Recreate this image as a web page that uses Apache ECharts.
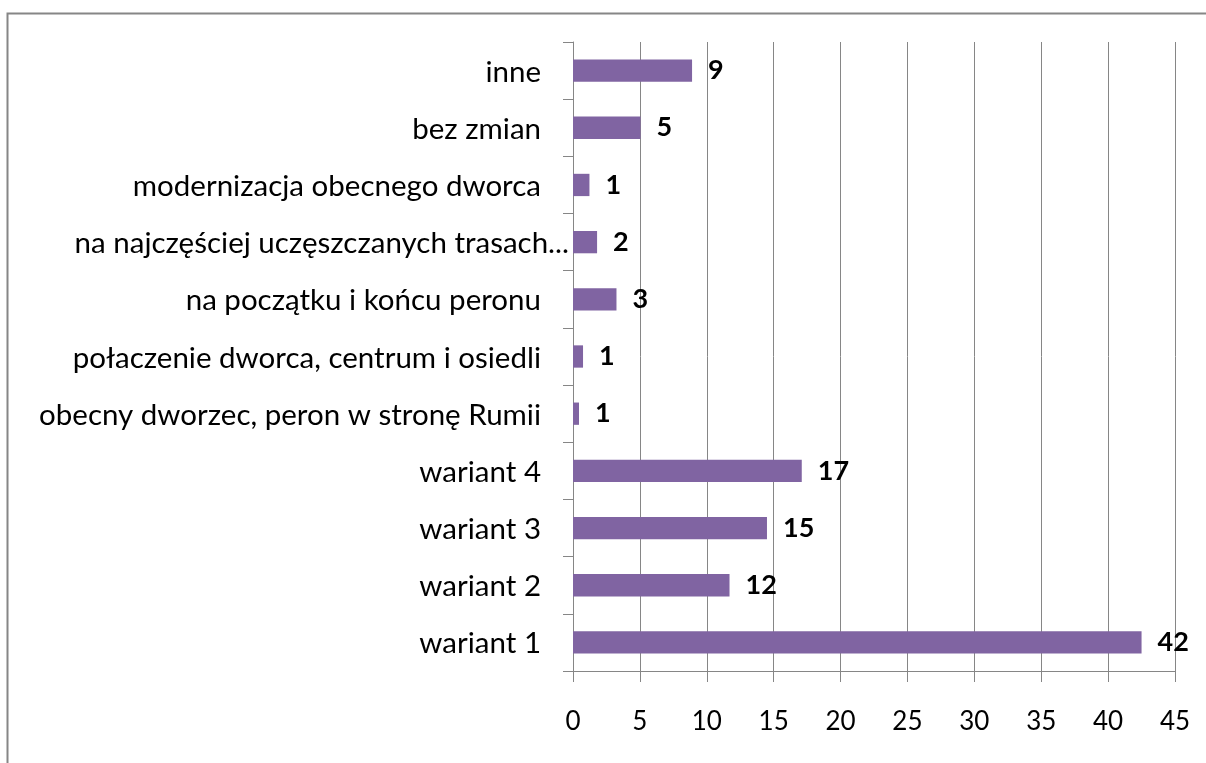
<!DOCTYPE html>
<html>
<head>
<meta charset="utf-8">
<script src="https://cdn.jsdelivr.net/npm/echarts@6/dist/echarts.min.js"></script>
<style>
  html, body { margin: 0; padding: 0; background: #fff; }
  #chart { width: 1206px; height: 763px; }
</style>
</head>
<body>
<div id="chart"></div>
<script>
// kategorie (od dołu do góry, jak na osi)
const categories = [
  'wariant 1',
  'wariant 2',
  'wariant 3',
  'wariant 4',
  'obecny dworzec, peron w stronę Rumii',
  'połaczenie dworca, centrum i osiedli',
  'na początku i końcu peronu',
  'na najczęściej uczęszczanych trasach...',
  'modernizacja obecnego dworca',
  'bez zmian',
  'inne'
];
const values = [42.5, 11.7, 14.5, 17.1, 0.45, 0.75, 3.25, 1.8, 1.23, 5.05, 8.9];
// etykiety danych (liczby odpowiedzi)
const labels = [42, 12, 15, 17, 1, 1, 3, 2, 1, 5, 9];
const xTicks = [0, 45, 5]; // min, max, interval

const font = 'Lato, "Open Sans", sans-serif';
const myChart = echarts.init(document.getElementById('chart'));

const option = {
  animation: false,
  graphic: [{
    type: 'rect',
    shape: { x: 7.5, y: 13.5, width: 1230, height: 800 },
    style: { fill: 'none', stroke: '#868686', lineWidth: 2 }
  }],
  grid: { left: 573, right: 31, top: 42, bottom: 92 },
  xAxis: {
    type: 'value',
    min: xTicks[0],
    max: xTicks[1],
    interval: xTicks[2],
    axisLine: { show: true, lineStyle: { color: '#868686', width: 1 } },
    axisTick: { show: true, length: 11, lineStyle: { color: '#868686' } },
    axisLabel: { color: '#000', fontFamily: font, fontSize: 26, margin: 38 },
    splitLine: { show: true, lineStyle: { color: '#868686', width: 1 } }
  },
  yAxis: {
    type: 'category',
    data: categories,
    axisLine: { show: true, lineStyle: { color: '#868686', width: 1 } },
    axisTick: { show: true, length: 10, lineStyle: { color: '#868686' } },
    axisLabel: {
      color: '#000',
      fontFamily: font,
      fontSize: 29.5,
      margin: 4,
      // obcięta etykieta w oryginale zachodzi dalej w prawo
      formatter: (v) => (v.endsWith('...') ? '{t|' + v + '}' : '{n|' + v + '}'),
      rich: {
        n: { fontFamily: font, fontSize: 29.5, color: '#000', padding: [3, 28, 0, 0] },
        t: { fontFamily: font, fontSize: 29.5, color: '#000', padding: [3, 0, 0, 0] }
      }
    }
  },
  series: [{
    type: 'bar',
    barWidth: '39%',
    data: values,
    itemStyle: { color: '#8064A2' },
    label: {
      show: true,
      position: 'right',
      distance: 16,
      color: '#000',
      fontFamily: font,
      fontSize: 27,
      fontWeight: 'bold',
      formatter: (p) => String(labels[p.dataIndex])
    }
  }]
};

myChart.setOption(option);
window.addEventListener('resize', () => myChart.resize());
</script>
</body>
</html>
